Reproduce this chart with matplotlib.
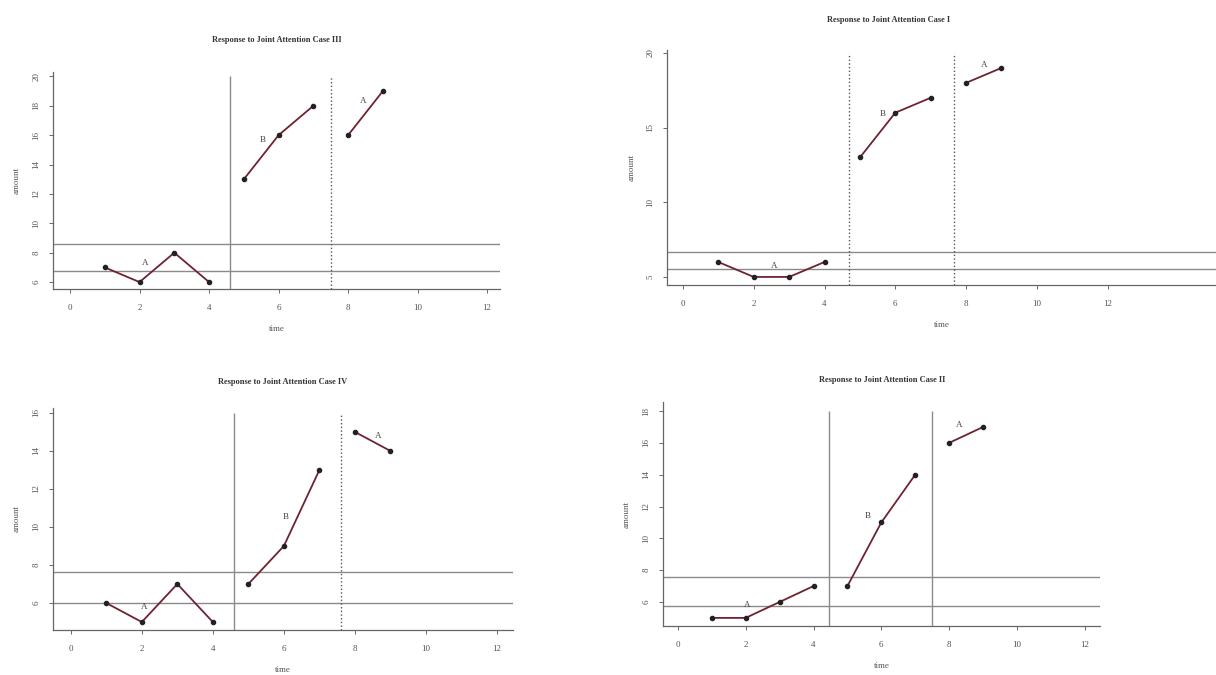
import matplotlib
matplotlib.use("Agg")
import matplotlib.pyplot as plt

plt.rcParams['font.family'] = ['Liberation Serif', 'DejaVu Serif']

# time points and phase split (A = 1-4, B = 5-7, A = 8-9)
time = [1, 2, 3, 4, 5, 6, 7, 8, 9]
phases = [(0, 4), (4, 7), (7, 9)]

case3 = [7, 6, 8, 6, 13, 16, 18, 16, 19]
case1 = [6, 5, 5, 6, 13, 16, 17, 18, 19]
case4 = [6, 5, 7, 5, 7, 9, 13, 15, 14]
case2 = [5, 5, 6, 7, 7, 11, 14, 16, 17]

# reference lines
hlines3 = [8.6, 6.75]
hlines1 = [6.7, 5.5]
hlines4 = [7.63, 6.0]
hlines2 = [7.6, 5.75]
vlines3 = [4.6, 7.5]
vlines1 = [4.7, 7.65]
vlines4 = [4.6, 7.6]
vlines2 = [4.47, 7.5]

W, H = 1216, 675
fig = plt.figure(figsize=(W / 100, H / 100), dpi=100)


def px_axes(left, right, top, bottom):
    return fig.add_axes([left / W, 1 - bottom / H, (right - left) / W, (bottom - top) / H])


def panel(ax, vals, hl, vl, vstyles, xlim, ylim, yticks, vtop, labels, title, title_xy, ylab_x):
    ax.set_xlim(*xlim)
    ax.set_ylim(*ylim)
    for s in ['top', 'right']:
        ax.spines[s].set_visible(False)
    for s in ['left', 'bottom']:
        ax.spines[s].set_color('#666666')
        ax.spines[s].set_linewidth(0.9)
    ax.set_xticks(range(0, 13, 2))
    ax.set_yticks(yticks)
    ax.tick_params(colors='#666666', labelcolor='#555555', labelsize=6.5, length=3, width=0.7)
    ax.tick_params(axis='x', pad=8)
    ax.tick_params(axis='y', pad=6)
    for t in ax.get_yticklabels():
        t.set_rotation(90)
        t.set_va('center')
    for y in hl:
        ax.axhline(y, color='#8a8a8a', lw=1.0)
    for x, ls in zip(vl, vstyles):
        c = '#555555' if ls == 'dotted' else '#8a8a8a'
        ax.vlines(x, ylim[0], vtop, color=c, lw=1.0, linestyles=ls)
    for a, b in phases:
        ax.plot(time[a:b], vals[a:b], color='#6e2430', lw=1.3, marker='o',
                markersize=3, markerfacecolor='#222222', markeredgecolor='#222222')
    for lab, x, y in labels:
        ax.text(x, y, lab, fontsize=6.5, color='#444444', ha='center', va='center')
    ax.set_xlabel('time', fontsize=6.5, color='#555555', labelpad=9)
    pos = ax.get_position()
    fig.text(ylab_x / W, (pos.y0 + pos.y1) / 2, 'amount', rotation=90, fontsize=6.5,
             color='#555555', ha='center', va='center')
    fig.text(title_xy[0] / W, 1 - title_xy[1] / H, title, fontsize=6, fontweight='bold',
             color='#333333', ha='center', va='center')


ax1 = px_axes(53, 500, 72, 289)
panel(ax1, case3, hlines3, vlines3, ['solid', 'dotted'], (-0.49, 12.37), (5.53, 20.3),
      range(6, 21, 2), 20.0,
      [('A', 2.16, 7.3), ('B', 5.55, 15.7), ('A', 8.43, 18.3)],
      'Response to Joint Attention Case III', (277, 40), 17)

ax2 = px_axes(667, 1216, 50, 285)
panel(ax2, case1, hlines1, vlines1, ['dotted', 'dotted'], (-0.45, 15.06), (4.46, 20.2),
      [5, 10, 15, 20], 20.0,
      [('A', 2.57, 5.7), ('B', 5.65, 15.9), ('A', 8.5, 19.2)],
      'Response to Joint Attention Case I', (889, 20), 632)

ax3 = px_axes(53, 513, 408, 630)
panel(ax3, case4, hlines4, vlines4, ['solid', 'dotted'], (-0.5, 12.45), (4.58, 16.26),
      range(6, 17, 2), 16.0,
      [('A', 2.06, 5.8), ('B', 6.06, 10.5), ('A', 8.66, 14.8)],
      'Response to Joint Attention Case IV', (283, 382), 17)

ax4 = px_axes(663, 1100, 402, 626)
panel(ax4, case2, hlines2, vlines2, ['solid', 'solid'], (-0.44, 12.45), (4.49, 18.57),
      range(6, 19, 2), 18.0,
      [('A', 2.05, 5.8), ('B', 5.59, 11.4), ('A', 8.31, 17.1)],
      'Response to Joint Attention Case II', (882, 380), 627)

fig.savefig('out.png', dpi=100)
